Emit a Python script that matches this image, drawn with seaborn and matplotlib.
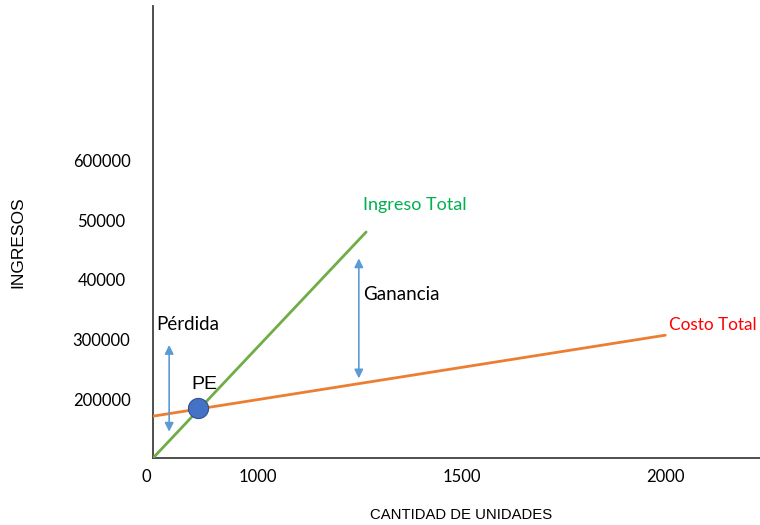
import matplotlib
matplotlib.use("Agg")
import matplotlib.pyplot as plt
from matplotlib.transforms import ScaledTranslation
import seaborn as sns
import pandas as pd

sns.set_theme(style="white")
plt.rcParams['font.family'] = ['Lato', 'DejaVu Sans']

# Data
ingreso_x = [741, 1265]
ingreso_y = [103000, 480000]
costo_x = [741, 2000]
costo_y = [173000, 308000]
pe_x = [853]
pe_y = [186000]
xtick_pos = [741.3, 1000, 1500, 2000]
xtick_labels = ["0", "1000", "1500", "2000"]
ytick_pos = [200000, 300000, 400000, 500000, 600000]
ytick_labels = ["200000", "300000", "40000", "50000", "600000"]

W, H = 760, 525
fig = plt.figure(figsize=(W / 100, H / 100), dpi=100)
ax = fig.add_axes([153 / W, 1 - 458 / H, 607 / W, 452 / H])

df_i = pd.DataFrame({"x": ingreso_x, "y": ingreso_y})
df_c = pd.DataFrame({"x": costo_x, "y": costo_y})
df_pe = pd.DataFrame({"x": pe_x, "y": pe_y})

sns.lineplot(data=df_c, x="x", y="y", ax=ax, color="#ED7D31", lw=2.0, zorder=3)
sns.lineplot(data=df_i, x="x", y="y", ax=ax, color="#70AD47", lw=2.0, zorder=3)
sns.scatterplot(data=df_pe, x="x", y="y", ax=ax, s=210, color="#4472C4",
                edgecolor="#2F528F", linewidth=0.8, zorder=5)

ax.set_xticks(xtick_pos)
ax.set_xticklabels(xtick_labels, fontsize=12, color="#000000")
ax.set_yticks(ytick_pos)
ax.set_yticklabels(ytick_labels, fontsize=12, color="#000000", ha="center")
ax.tick_params(axis="y", length=0, pad=37)
ax.tick_params(axis="x", length=0, pad=8)
ax.set_xlim(741.3, 2232.7)
ax.set_ylim(103333, 856667)

# shift the "0" label slightly left of the axis origin, as in the reference
lab0 = ax.get_xticklabels()[0]
lab0.set_transform(lab0.get_transform() + ScaledTranslation(-7 / 100, 0, fig.dpi_scale_trans))

for s in ["top", "right"]:
    ax.spines[s].set_visible(False)
for s in ["left", "bottom"]:
    ax.spines[s].set_color("#404040")
    ax.spines[s].set_linewidth(1.3)

ax.set_xlabel("")
ax.set_ylabel("")
fig.text(18 / W, 1 - 242 / H, "INGRESOS", rotation=90, ha="center", va="center",
         fontsize=12.5, family="Liberation Sans", color="#000000")
fig.text(461 / W, 1 - 515 / H, "CANTIDAD DE UNIDADES", ha="center", va="center",
         fontsize=10.7, family="Liberation Sans", color="#000000")

arrow_kw = dict(arrowstyle="<|-|>", color="#5B9BD5", lw=1.2, mutation_scale=13,
                shrinkA=0, shrinkB=0)
ax.annotate("", xy=(781, 291700), xytext=(781, 147200), arrowprops=arrow_kw)
ax.annotate("", xy=(1247, 436000), xytext=(1247, 236000), arrowprops=arrow_kw)

ax.text(750, 325000, "Pérdida", fontsize=13.5, ha="left", va="center", color="#000000")
ax.text(1258, 375000, "Ganancia", fontsize=13.5, ha="left", va="center", color="#000000")
ax.text(1258, 525000, "Ingreso Total", fontsize=13, ha="left", va="center", color="#00B050")
ax.text(2009, 325000, "Costo Total", fontsize=12.4, ha="left", va="center", color="#FF0000",
        clip_on=False)
ax.text(836, 225000, "PE", fontsize=14, family="Liberation Sans", ha="left", va="center",
        color="#000000")

fig.savefig("out.png", dpi=100)
